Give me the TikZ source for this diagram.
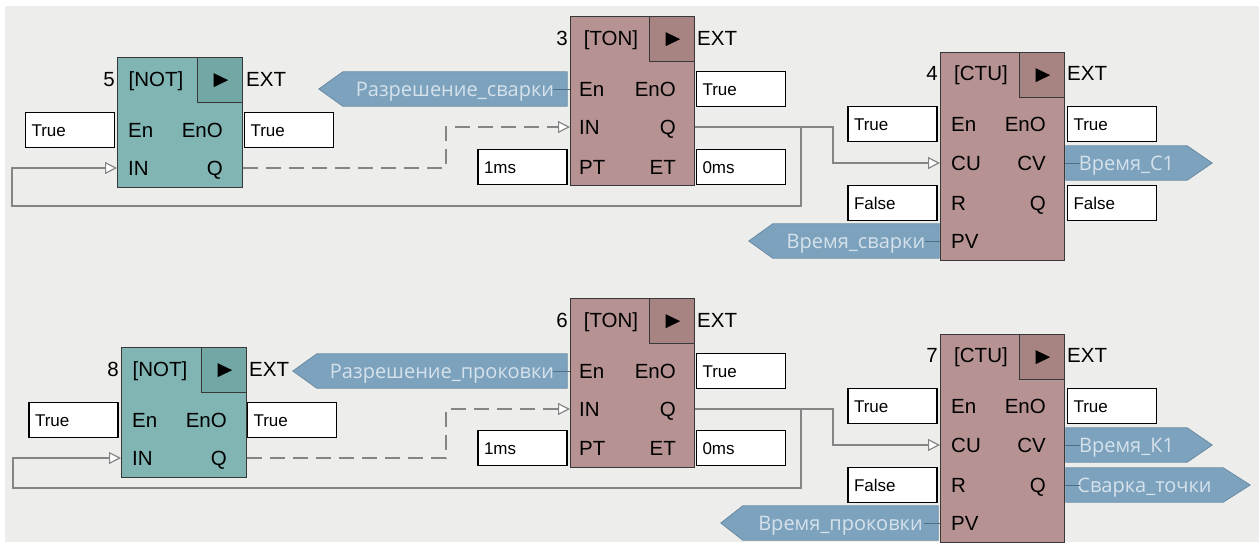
\documentclass[tikz,border=0pt]{standalone}
\usepackage{fontspec}
\setmainfont{Liberation Sans}
\newfontfamily\tagfont{Open Sans}
\usetikzlibrary{arrows.meta,backgrounds}
\definecolor{bgc}{HTML}{EDEDEB}
\definecolor{notc}{HTML}{80B5B4}
\definecolor{notrun}{HTML}{72A7A6}
\definecolor{fbc}{HTML}{B69392}
\definecolor{fbrun}{HTML}{A78482}
\definecolor{tagc}{HTML}{7CA2BE}
\definecolor{tagtext}{HTML}{D6E2EB}
\definecolor{tagedge}{HTML}{6A8BA3}
\definecolor{tagline}{HTML}{4F6F85}
\definecolor{wirec}{HTML}{858585}
\definecolor{edgec}{HTML}{383838}
\tikzset{
	blk/.style={draw=edgec, line width=1.3pt, inner sep=0pt, anchor=north west},
	notblk/.style={blk, fill=notc, minimum width=125pt, minimum height=130pt},
	tonblk/.style={blk, fill=fbc, minimum width=124pt, minimum height=169pt},
	ctublk/.style={blk, fill=fbc, minimum width=124pt, minimum height=208pt},
	runbox/.style={draw=edgec, line width=1.3pt, inner sep=0pt, anchor=north east, minimum width=45pt, minimum height=45pt,
		path picture={\fill[black] (path picture bounding box.center) ++(-6.5pt,7pt) -- ++(14.5pt,-7pt) -- ++(-14.5pt,-7pt) -- cycle;}},
	lbl/.style={font=\fontsize{20.5}{24}\selectfont, inner sep=0pt, text height=14.7pt, text depth=0pt},
	portl/.style={lbl, anchor=west},
	portr/.style={lbl, anchor=east},
	valbox/.style={draw=black, fill=white, line width=1.2pt, font=\fontsize{17}{20}\selectfont, text width=77pt, align=left,
		inner xsep=6pt, inner ysep=0pt, minimum height=35pt, text height=12.2pt, text depth=0pt},
	tagnode/.style={font=\tagfont\fontsize{20}{24}\selectfont, text=tagtext, inner sep=0pt, minimum height=34pt, text height=14.3pt, text depth=0pt},
	tagshape/.style={fill=tagc, draw=tagedge, line width=0.8pt},
	tagwire/.style={draw=tagline, line width=0.8pt},
	wire/.style={draw=wirec, line width=1.2pt},
	dwire/.style={wire, dash pattern=on 15pt off 8pt},
	inarrow/.style={-{Triangle[fill=white, length=12pt, width=12pt]}}
}
\begin{document}
\begin{tikzpicture}[x=1pt,y=-1pt]
	\useasboundingbox (0,0) rectangle (1259,542);

	% upper chain
	\node[notblk] (b5) at (117,57) {};
	\node[runbox, fill=notrun] (b5run) at (b5.north east) {};
	\node[lbl, anchor=east] (b5num) at (115,79) {5};
	\node[lbl] (b5hdr) at (156,79) {[NOT]};
	\node[lbl, anchor=west] (b5ext) at (246,79) {EXT};
	\node[portl] (b5en) at (128,130) {En};
	\node[portl] (b5in) at (128,168) {IN};
	\node[portr] (b5eno) at (223,130) {EnO};
	\node[portr] (b5q) at (223,168) {Q};
	\node[valbox] (v5en) at (70,130) {True};
	\node[valbox] (v5eno) at (289,130) {True};

	\node[tonblk] (b3) at (570,16) {};
	\node[runbox, fill=fbrun] (b3run) at (b3.north east) {};
	\node[lbl, anchor=east] (b3num) at (568,38) {3};
	\node[lbl] (b3hdr) at (611,38) {[TON]};
	\node[lbl, anchor=west] (b3ext) at (697,38) {EXT};
	\node[portl] (b3en) at (579,89) {En};
	\node[portl] (b3in) at (579,127) {IN};
	\node[portl] (b3pt) at (579,167) {PT};
	\node[portr] (b3eno) at (676,89) {EnO};
	\node[portr] (b3q) at (676,127) {Q};
	\node[portr] (b3et) at (676,167) {ET};
	\node[valbox] (v3eno) at (741,89) {True};
	\node[valbox] (v3pt) at (522.5,167) {1ms};
	\node[valbox] (v3et) at (741,167) {0ms};
	\node[tagnode, minimum width=224pt] (tA) at (455,89) {Разрешение\_сварки};

	\node[ctublk] (b4) at (940,52) {};
	\node[runbox, fill=fbrun] (b4run) at (b4.north east) {};
	\node[lbl, anchor=east] (b4num) at (938,73) {4};
	\node[lbl] (b4hdr) at (981,73) {[CTU]};
	\node[lbl, anchor=west] (b4ext) at (1067,73) {EXT};
	\node[portl] (b4en) at (951,124) {En};
	\node[portl] (b4cu) at (951,163) {CU};
	\node[portl] (b4r) at (951,203) {R};
	\node[portl] (b4pv) at (951,241) {PV};
	\node[portr] (b4eno) at (1046,124) {EnO};
	\node[portr] (b4cv) at (1046,163) {CV};
	\node[portr] (b4q) at (1046,203) {Q};
	\node[valbox] (v4en) at (892.5,124) {True};
	\node[valbox] (v4r) at (892.5,203) {False};
	\node[valbox] (v4eno) at (1112,124) {True};
	\node[valbox] (v4q) at (1112,203) {False};
	\node[tagnode, minimum width=121pt] (tB) at (1126.5,163) {Время\_С1};
	\node[tagnode, minimum width=166pt] (tC) at (856,241) {Время\_сварки};

	% lower chain
	\node[notblk] (b8) at (121,347) {};
	\node[runbox, fill=notrun] (b8run) at (b8.north east) {};
	\node[lbl, anchor=east] (b8num) at (119,369) {8};
	\node[lbl] (b8hdr) at (160,369) {[NOT]};
	\node[lbl, anchor=west] (b8ext) at (249,369) {EXT};
	\node[portl] (b8en) at (132,420) {En};
	\node[portl] (b8in) at (132,458) {IN};
	\node[portr] (b8eno) at (227,420) {EnO};
	\node[portr] (b8q) at (227,458) {Q};
	\node[valbox] (v8en) at (73.5,420) {True};
	\node[valbox] (v8eno) at (292,420) {True};

	\node[tonblk] (b6) at (570,298) {};
	\node[runbox, fill=fbrun] (b6run) at (b6.north east) {};
	\node[lbl, anchor=east] (b6num) at (568,320) {6};
	\node[lbl] (b6hdr) at (611,320) {[TON]};
	\node[lbl, anchor=west] (b6ext) at (697,320) {EXT};
	\node[portl] (b6en) at (579,371) {En};
	\node[portl] (b6in) at (579,409) {IN};
	\node[portl] (b6pt) at (579,448) {PT};
	\node[portr] (b6eno) at (676,371) {EnO};
	\node[portr] (b6q) at (676,409) {Q};
	\node[portr] (b6et) at (676,448) {ET};
	\node[valbox] (v6eno) at (741,371) {True};
	\node[valbox] (v6pt) at (522.5,448) {1ms};
	\node[valbox] (v6et) at (741,448) {0ms};
	\node[tagnode, minimum width=250pt] (tD) at (442,371) {Разрешение\_проковки};

	\node[ctublk] (b7) at (940,334) {};
	\node[runbox, fill=fbrun] (b7run) at (b7.north east) {};
	\node[lbl, anchor=east] (b7num) at (938,355) {7};
	\node[lbl] (b7hdr) at (981,355) {[CTU]};
	\node[lbl, anchor=west] (b7ext) at (1067,355) {EXT};
	\node[portl] (b7en) at (951,406) {En};
	\node[portl] (b7cu) at (951,445) {CU};
	\node[portl] (b7r) at (951,485) {R};
	\node[portl] (b7pv) at (951,523) {PV};
	\node[portr] (b7eno) at (1046,406) {EnO};
	\node[portr] (b7cv) at (1046,445) {CV};
	\node[portr] (b7q) at (1046,485) {Q};
	\node[valbox] (v7en) at (892.5,406) {True};
	\node[valbox] (v7r) at (892.5,485) {False};
	\node[valbox] (v7eno) at (1112,406) {True};
	\node[tagnode, minimum width=121pt] (tE) at (1126.5,445) {Время\_К1};
	\node[tagnode, minimum width=157pt] (tF) at (1144.5,485) {Сварка\_точки};
	\node[tagnode, minimum width=195pt] (tG) at (840.5,523) {Время\_проковки};

	\begin{pgfonlayer}{background}
		\fill[bgc] (5,6) rectangle (1259,542);
		\path[tagshape] (tA.north east) -- (tA.north west) -- ([xshift=-24pt]tA.west) -- (tA.south west) -- (tA.south east) -- cycle;
		\path[tagshape] (tC.north east) -- (tC.north west) -- ([xshift=-24pt]tC.west) -- (tC.south west) -- (tC.south east) -- cycle;
		\path[tagshape] (tD.north east) -- (tD.north west) -- ([xshift=-24pt]tD.west) -- (tD.south west) -- (tD.south east) -- cycle;
		\path[tagshape] (tG.north east) -- (tG.north west) -- ([xshift=-22pt]tG.west) -- (tG.south west) -- (tG.south east) -- cycle;
		\path[tagshape] (tB.north west) -- (tB.north east) -- ([xshift=25pt]tB.east) -- (tB.south east) -- (tB.south west) -- cycle;
		\path[tagshape] (tE.north west) -- (tE.north east) -- ([xshift=25pt]tE.east) -- (tE.south east) -- (tE.south west) -- cycle;
		\path[tagshape] (tF.north west) -- (tF.north east) -- ([xshift=27pt]tF.east) -- (tF.south east) -- (tF.south west) -- cycle;
	\end{pgfonlayer}

	\draw[tagwire] (b3.west |- b3en) -- ([xshift=-14pt]tA.east);
	\draw[tagwire] (b4.east |- b4cv) -- ([xshift=14pt]tB.west);
	\draw[tagwire] (b4.west |- b4pv) -- ([xshift=-14pt]tC.east);
	\draw[tagwire] (b6.west |- b6en) -- ([xshift=-14pt]tD.east);
	\draw[tagwire] (b7.east |- b7cv) -- ([xshift=14pt]tE.west);
	\draw[tagwire] (b7.east |- b7q) -- ([xshift=14pt]tF.west);
	\draw[tagwire] (b7.west |- b7pv) -- ([xshift=-14pt]tG.east);

	\coordinate (j1) at (446,127);
	\coordinate (j2) at (833,163);
	\coordinate (j3) at (801,206);
	\coordinate (j4) at (12,206);
	\draw[dwire, inarrow] (b5.east |- b5q) -| (j1) -- (b3.west |- b3in);
	\draw[wire, inarrow] (b3.east |- b3q) -| (j2) -- (b4.west |- b4cu);
	\draw[wire, inarrow] (j3 |- b3q) -- (j3) -- (j4) |- (b5.west |- b5in);

	\coordinate (j5) at (446,409);
	\coordinate (j6) at (833,445);
	\coordinate (j7) at (801,488);
	\coordinate (j8) at (13,488);
	\draw[dwire, inarrow] (b8.east |- b8q) -| (j5) -- (b6.west |- b6in);
	\draw[wire, inarrow] (b6.east |- b6q) -| (j6) -- (b7.west |- b7cu);
	\draw[wire, inarrow] (j7 |- b6q) -- (j7) -- (j8) |- (b8.west |- b8in);
\end{tikzpicture}
\end{document}
